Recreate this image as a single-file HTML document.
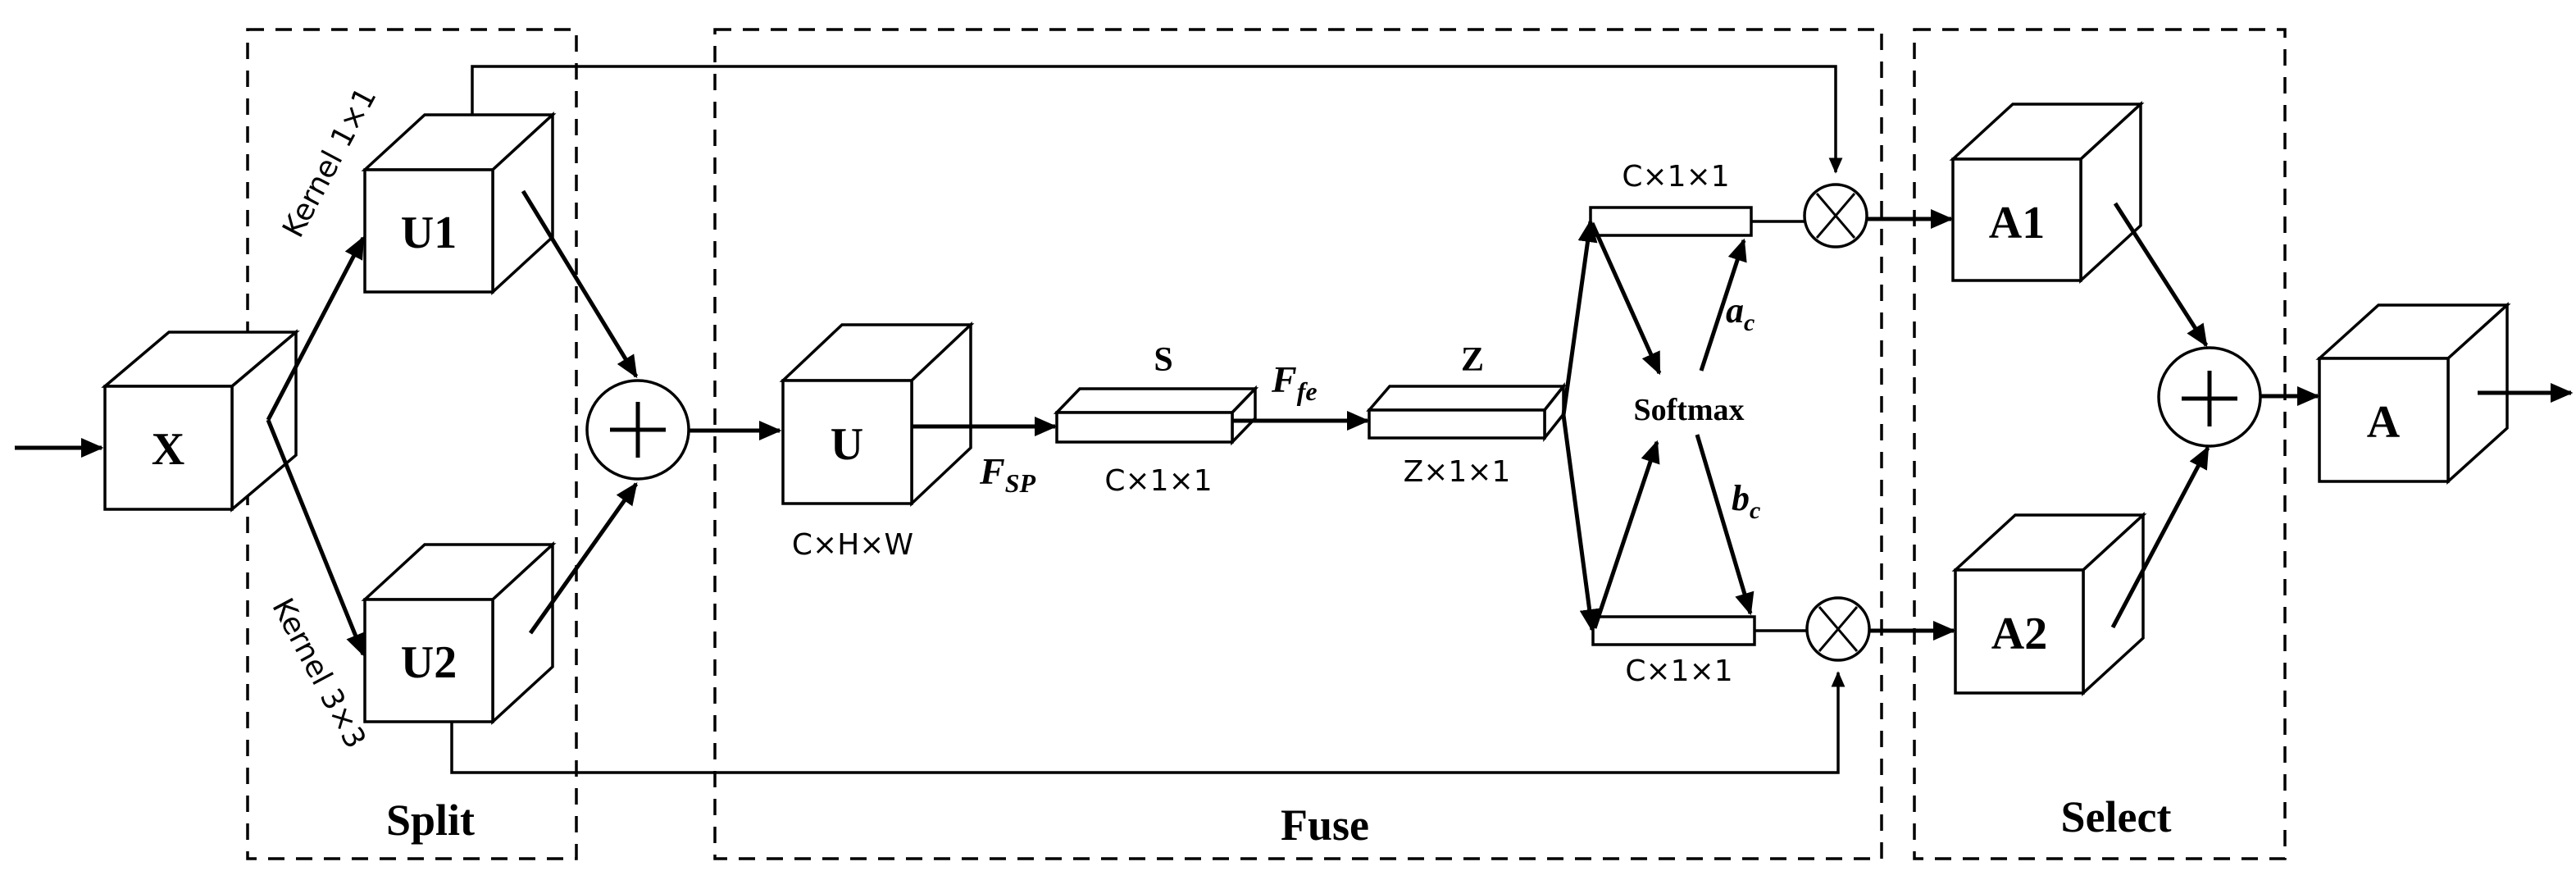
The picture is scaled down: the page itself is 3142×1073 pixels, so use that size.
<!DOCTYPE html>
<html><head><meta charset="utf-8"><style>body{margin:0;background:#fff}svg{display:block}</style></head><body>
<svg width="3142" height="1073" viewBox="0 0 3142 1073" xmlns="http://www.w3.org/2000/svg">
<defs>
<marker id="ah" markerWidth="6" markerHeight="6" refX="5" refY="3" orient="auto" markerUnits="strokeWidth"><path d="M0,0.6 L5.5,3 L0,5.4 Z" fill="#000"/></marker>
</defs>
<g fill="none" stroke="#000" stroke-width="3.5" stroke-dasharray="20 14">
<rect x="302" y="36" width="401" height="1011"/>
<rect x="872" y="36" width="1423" height="1011"/>
<rect x="2335" y="36" width="452" height="1011"/>
</g>
<g fill="#fff" stroke="#000" stroke-width="3.5" stroke-linejoin="miter">
<!-- X -->
<path d="M128,471 L206,405 L361,405 L283,471 Z"/><path d="M283,471 L361,405 L361,555 L283,621 Z"/><rect x="128" y="471" width="155" height="150"/>
<!-- U1 -->
<path d="M445,207 L518,140 L674,140 L601,207 Z"/><path d="M601,207 L674,140 L674,289 L601,356 Z"/><rect x="445" y="207" width="156" height="149"/>
<!-- U2 -->
<path d="M445,731 L518,664 L674,664 L601,731 Z"/><path d="M601,731 L674,664 L674,813 L601,880 Z"/><rect x="445" y="731" width="156" height="149"/>
<!-- U -->
<path d="M955,464 L1027,396 L1184,396 L1112,464 Z"/><path d="M1112,464 L1184,396 L1184,546 L1112,614 Z"/><rect x="955" y="464" width="157" height="150"/>
<!-- S bar -->
<path d="M1289,503 L1317,474 L1531,474 L1503,503 Z"/><path d="M1503,503 L1531,474 L1531,510 L1503,539 Z"/><rect x="1289" y="503" width="214" height="36"/>
<!-- Z bar -->
<path d="M1670,500 L1695,471 L1907,471 L1884,500 Z"/><path d="M1884,500 L1907,471 L1907,505 L1884,534 Z"/><rect x="1670" y="500" width="214" height="34"/>
<!-- bars -->
<rect x="1940" y="253" width="196" height="34"/>
<rect x="1943" y="752" width="197" height="34"/>
<!-- A1 -->
<path d="M2382,194 L2455,127 L2611,127 L2538,194 Z"/><path d="M2538,194 L2611,127 L2611,275 L2538,342 Z"/><rect x="2382" y="194" width="156" height="148"/>
<!-- A2 -->
<path d="M2385,695 L2458,628 L2614,628 L2541,695 Z"/><path d="M2541,695 L2614,628 L2614,778 L2541,845 Z"/><rect x="2385" y="695" width="156" height="150"/>
<!-- A -->
<path d="M2829,437 L2901,372 L3058,372 L2986,437 Z"/><path d="M2986,437 L3058,372 L3058,522 L2986,587 Z"/><rect x="2829" y="437" width="157" height="150"/>
</g>
<!-- thin connectors -->
<g fill="none" stroke="#000" stroke-width="3.5">
<path d="M576,140 L576,81 L2239,81 L2239,210" marker-end="url(#ah)"/>
<path d="M551,880 L551,942 L2242,942 L2242,820" marker-end="url(#ah)"/>
<line x1="2136" y1="270" x2="2201" y2="270"/>
<line x1="2140" y1="769" x2="2204" y2="769"/>
</g>
<!-- bold arrows -->
<g fill="none" stroke="#000" stroke-width="5">
<line x1="18" y1="546" x2="124" y2="546" marker-end="url(#ah)"/>
<polyline points="445,287 327,512 445,801" stroke="none"/>
<line x1="327" y1="512" x2="443" y2="290" marker-end="url(#ah)"/>
<line x1="327" y1="512" x2="443" y2="798" marker-end="url(#ah)"/>
<line x1="638" y1="233" x2="776" y2="459" marker-end="url(#ah)"/>
<line x1="647" y1="772" x2="776" y2="590" marker-end="url(#ah)"/>
<line x1="840" y1="525" x2="951" y2="525" marker-end="url(#ah)"/>
<line x1="1112" y1="520" x2="1287" y2="520" marker-end="url(#ah)"/>
<line x1="1503" y1="513" x2="1668" y2="513" marker-end="url(#ah)"/>
<line x1="1907" y1="506" x2="1940" y2="270" marker-end="url(#ah)"/>
<line x1="1907" y1="506" x2="1942" y2="768" marker-end="url(#ah)"/>
<line x1="1942" y1="272" x2="2024" y2="455" marker-end="url(#ah)"/>
<line x1="1945" y1="766" x2="2021" y2="539" marker-end="url(#ah)"/>
<line x1="2075" y1="452" x2="2127" y2="293" marker-end="url(#ah)"/>
<line x1="2070" y1="530" x2="2135" y2="748" marker-end="url(#ah)"/>
<line x1="2277" y1="267" x2="2380" y2="267" marker-end="url(#ah)"/>
<line x1="2280" y1="769" x2="2383" y2="769" marker-end="url(#ah)"/>
<line x1="2580" y1="248" x2="2691" y2="421" marker-end="url(#ah)"/>
<line x1="2577" y1="765" x2="2693" y2="546" marker-end="url(#ah)"/>
<line x1="2757" y1="483" x2="2827" y2="483" marker-end="url(#ah)"/>
<line x1="3022" y1="479" x2="3136" y2="479" marker-end="url(#ah)"/>
</g>
<!-- plus circles -->
<g fill="#fff" stroke="#000" stroke-width="3.5">
<ellipse cx="778" cy="524" rx="62" ry="60"/>
<ellipse cx="2695" cy="484" rx="62" ry="60"/>
<ellipse cx="2239" cy="263" rx="38" ry="38"/>
<ellipse cx="2242" cy="767" rx="38" ry="38"/>
</g>
<g stroke="#000" stroke-width="5">
<line x1="744" y1="524" x2="812" y2="524"/><line x1="778" y1="490" x2="778" y2="558"/>
<line x1="2661" y1="486" x2="2729" y2="486"/><line x1="2695" y1="452" x2="2695" y2="520"/>
</g>
<g stroke="#000" stroke-width="3">
<line x1="2216" y1="236" x2="2262" y2="290"/><line x1="2262" y1="236" x2="2216" y2="290"/>
<line x1="2219" y1="740" x2="2265" y2="794"/><line x1="2265" y1="740" x2="2219" y2="794"/>
</g>
<!-- text -->
<g font-family="Liberation Serif, serif" font-weight="bold" text-anchor="middle" fill="#000">
<text x="205" y="566" font-size="56">X</text>
<text x="523" y="302" font-size="56">U1</text>
<text x="523" y="826" font-size="56">U2</text>
<text x="1033" y="560" font-size="56">U</text>
<text x="2460" y="290" font-size="56">A1</text>
<text x="2463" y="791" font-size="56">A2</text>
<text x="2907" y="533" font-size="56">A</text>
<text x="525" y="1018" font-size="54">Split</text>
<text x="1616" y="1024" font-size="54">Fuse</text>
<text x="2581" y="1014" font-size="54">Select</text>
<text x="1419" y="452" font-size="42">S</text>
<text x="1796" y="452" font-size="42">Z</text>
<text x="2060" y="512" font-size="38">Softmax</text>
</g>
<g font-family="Liberation Serif, serif" font-weight="bold" font-style="italic" fill="#000">
<text x="1195" y="590" font-size="46">F<tspan font-size="32" dy="10">SP</tspan></text>
<text x="1551" y="478" font-size="46">F<tspan font-size="32" dy="10">fe</tspan></text>
<text x="2105" y="393" font-size="44">a<tspan font-size="30" dy="10">c</tspan></text>
<text x="2112" y="622" font-size="44">b<tspan font-size="30" dy="10">c</tspan></text>
</g>
<g font-family="DejaVu Sans, Liberation Sans, sans-serif" text-anchor="middle" fill="#000" font-size="36">
<text x="1040" y="676">C×H×W</text>
<text x="1413" y="598">C×1×1</text>
<text x="1777" y="587">Z×1×1</text>
<text x="2044" y="227">C×1×1</text>
<text x="2048" y="830">C×1×1</text>
<text transform="translate(402,198) rotate(-62)" x="0" y="12">Kernel 1×1</text>
<text transform="translate(389,821) rotate(62)" x="0" y="12">Kernel 3×3</text>
</g>
</svg>
</body></html>
